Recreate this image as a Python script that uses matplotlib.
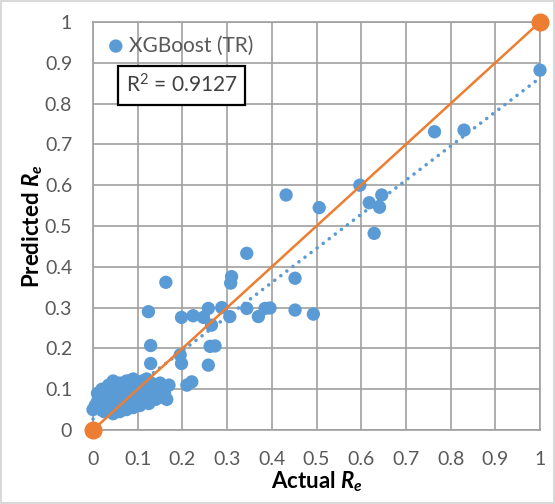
import numpy as np
import matplotlib
matplotlib.use("Agg")
import matplotlib.pyplot as plt

# ---- data ----
actual = [
    # dense cluster near origin
    0.00, 0.005, 0.01, 0.01, 0.015, 0.02, 0.02, 0.025, 0.03, 0.03, 0.035, 0.04, 0.04, 0.045,
    0.05, 0.05, 0.055, 0.06, 0.06, 0.065, 0.07, 0.07, 0.075, 0.08, 0.08, 0.085, 0.09, 0.09,
    0.095, 0.10, 0.10, 0.105, 0.11, 0.11, 0.115, 0.12, 0.12, 0.125, 0.13, 0.13, 0.135, 0.14,
    0.14, 0.145, 0.15, 0.15, 0.155, 0.16, 0.165, 0.17, 0.025, 0.045, 0.06, 0.075, 0.09, 0.105,
    0.035, 0.05, 0.065, 0.08, 0.095, 0.015, 0.045, 0.075, 0.125,
    # scattered mid-range
    0.124, 0.129, 0.129, 0.163, 0.195, 0.198, 0.210, 0.221, 0.258, 0.262, 0.273,
    0.198, 0.224, 0.247, 0.258, 0.265, 0.288, 0.306, 0.344, 0.370, 0.385, 0.396,
    0.308, 0.310, 0.344, 0.452, 0.452, 0.493, 0.432, 0.506,
    # upper range
    0.597, 0.618, 0.646, 0.641, 0.629, 0.764, 0.830, 1.000,
]
predicted = [
    0.05, 0.06, 0.07, 0.09, 0.055, 0.08, 0.10, 0.065, 0.05, 0.09, 0.11, 0.07, 0.06, 0.085,
    0.10, 0.05, 0.075, 0.115, 0.06, 0.09, 0.07, 0.105, 0.12, 0.08, 0.06, 0.10, 0.125, 0.09,
    0.07, 0.11, 0.08, 0.095, 0.12, 0.075, 0.105, 0.085, 0.125, 0.10, 0.08, 0.115, 0.095, 0.11,
    0.075, 0.09, 0.115, 0.08, 0.10, 0.09, 0.075, 0.11, 0.045, 0.04, 0.045, 0.05, 0.055, 0.06,
    0.075, 0.09, 0.11, 0.12, 0.105, 0.085, 0.12, 0.095, 0.065,
    0.290, 0.207, 0.163, 0.362, 0.184, 0.163, 0.110, 0.118, 0.159, 0.205, 0.206,
    0.276, 0.280, 0.276, 0.298, 0.257, 0.300, 0.278, 0.298, 0.278, 0.298, 0.299,
    0.360, 0.376, 0.433, 0.372, 0.294, 0.284, 0.576, 0.545,
    0.600, 0.557, 0.576, 0.546, 0.482, 0.731, 0.735, 0.882,
]
ideal_x = [0, 1]
ideal_y = [0, 1]
series_name = "XGBoost (TR)"
r2_text = "R$^2$ = 0.9127"
ticks = [0, 0.1, 0.2, 0.3, 0.4, 0.5, 0.6, 0.7, 0.8, 0.9, 1]
tick_labels = ["0", "0.1", "0.2", "0.3", "0.4", "0.5", "0.6", "0.7", "0.8", "0.9", "1"]

# ---- style ----
plt.rcParams['font.family'] = ['Lato', 'DejaVu Sans']
plt.rcParams['mathtext.fontset'] = 'custom'
plt.rcParams['mathtext.it'] = 'Lato:bold:italic'
plt.rcParams['mathtext.rm'] = 'Lato'

blue = '#5B9BD5'
orange = '#ED7D31'
grid_c = '#A0A0A0'
tick_c = '#595959'

fig = plt.figure(figsize=(5.55, 5.04), dpi=100)
fig.patch.set_edgecolor('#D9D9D9')
fig.patch.set_linewidth(1.5)
ax = fig.add_axes([93/555, 74/504, 447/555, 408/504])

ax.set_xlim(0, 1)
ax.set_ylim(0, 1)
ax.set_xticks(ticks)
ax.set_yticks(ticks)
ax.set_xticklabels(tick_labels)
ax.set_yticklabels(tick_labels)
ax.grid(True, color=grid_c, linewidth=1.2)
ax.set_axisbelow(True)
for s in ax.spines.values():
    s.set_color(grid_c)
    s.set_linewidth(1.2)
ax.tick_params(length=0, colors=tick_c, labelsize=14)
ax.tick_params(axis='x', pad=15)
ax.tick_params(axis='y', pad=15)

ax.scatter(actual, predicted, s=92, color=blue, edgecolors='none', zorder=3, clip_on=False)

# trendline (linear fit of the series)
coef = np.polyfit(actual, predicted, 1)
tx = np.array([0, 1])
ax.plot(tx, np.polyval(coef, tx), linestyle=(0, (0.01, 2.1)), color=blue, linewidth=2.6,
        dash_capstyle='round', zorder=4, clip_on=False)

ax.plot(ideal_x, ideal_y, color=orange, linewidth=1.8, marker='o', markersize=12,
        zorder=5, clip_on=False)

# legend
ax.scatter([0.051], [0.941], s=92, color=blue, edgecolors='none', zorder=6)
ax.text(0.080, 0.941, series_name, color=tick_c, fontsize=15, va='center', ha='left', zorder=6)

ax.text(0.198, 0.845, r2_text, color='#404040', fontsize=15, va='center', ha='center', zorder=6,
        bbox=dict(boxstyle='square,pad=0.38', facecolor='white', edgecolor='black', linewidth=1.6))

ax.set_xlabel(r'Actual $R_e$', fontsize=16, fontweight='bold', color='black', labelpad=1)
ax.set_ylabel(r'Predicted $R_e$', fontsize=16, fontweight='bold', color='black', labelpad=0)

fig.savefig('out.png', dpi=100)
